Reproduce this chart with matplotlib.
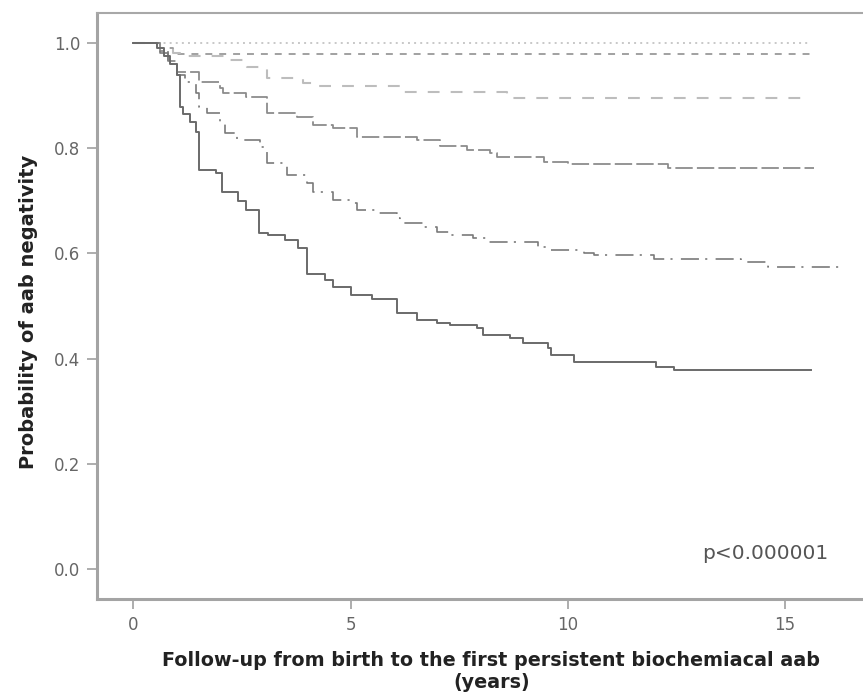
"""Kaplan-Meier style curves: probability of staying aab negative by follow-up time."""
import matplotlib
matplotlib.use("Agg")
import matplotlib.pyplot as plt

# step curves (time in years, survival probability)
t_dot = [0, 15.6]
s_dot = [1.0, 1.0]

t_short = [0, 0.6, 0.9, 15.6]
s_short = [1.0, 0.99, 0.979, 0.979]

t_med = [0, 0.6, 0.9, 1.06, 2.15, 2.61, 3.07, 3.9, 4.23, 6.14, 8.61, 15.6]
s_med = [1.0, 0.99, 0.98, 0.975, 0.968, 0.954, 0.933, 0.924, 0.918, 0.907, 0.895, 0.895]

t_long = [0, 0.6, 0.8, 1.0, 1.52, 1.99, 2.06, 2.6, 3.07, 3.76, 4.13, 4.6, 5.15, 6.54,
          7.07, 7.69, 8.22, 8.38, 9.45, 10.0, 12.31, 15.68]
s_long = [1.0, 0.985, 0.965, 0.945, 0.926, 0.914, 0.905, 0.897, 0.867, 0.859, 0.844, 0.838,
          0.821, 0.816, 0.804, 0.797, 0.791, 0.783, 0.774, 0.770, 0.762, 0.762]

t_dd = [0, 0.6, 0.8, 1.0, 1.18, 1.45, 1.52, 1.69, 1.99, 2.1, 2.38, 2.91, 3.07, 3.53, 4.0,
        4.13, 4.6, 5.06, 5.15, 5.61, 6.07, 6.14, 6.67, 7.0, 7.3, 7.83, 8.15, 9.31, 9.54,
        10.37, 10.6, 11.99, 13.99, 14.62, 16.3]
s_dd = [1.0, 0.98, 0.96, 0.94, 0.926, 0.905, 0.878, 0.867, 0.848, 0.829, 0.816, 0.802,
        0.772, 0.749, 0.734, 0.717, 0.702, 0.696, 0.683, 0.677, 0.667, 0.658, 0.650, 0.641,
        0.635, 0.629, 0.622, 0.612, 0.606, 0.601, 0.597, 0.589, 0.584, 0.574, 0.574]

t_solid = [0, 0.55, 0.7, 0.85, 1.0, 1.06, 1.15, 1.3, 1.45, 1.52, 1.9, 2.03, 2.4, 2.6, 2.9,
           3.1, 3.5, 3.8, 4.0, 4.4, 4.6, 5.0, 5.5, 6.07, 6.54, 7.0, 7.3, 7.92, 8.06, 8.68,
           8.98, 9.54, 9.61, 10.14, 12.03, 12.45, 15.6]
s_solid = [1.0, 0.99, 0.975, 0.96, 0.94, 0.878, 0.865, 0.85, 0.83, 0.759, 0.753, 0.717,
           0.70, 0.683, 0.639, 0.635, 0.625, 0.61, 0.56, 0.549, 0.536, 0.52, 0.513, 0.487,
           0.473, 0.468, 0.464, 0.458, 0.445, 0.439, 0.43, 0.42, 0.407, 0.394, 0.384, 0.378,
           0.378]

xticks = [0, 5, 10, 15]
yticks = [0.0, 0.2, 0.4, 0.6, 0.8, 1.0]

plt.rcParams["lines.scale_dashes"] = False
fig = plt.figure(figsize=(8.63, 6.98), dpi=100)
ax = fig.add_axes([0.1124, 0.1418, 0.8876, 0.8396])

curves = [
    (t_dot, s_dot, "#c4c4c4", 1.3, (0, (1.4, 3.0))),
    (t_short, s_short, "#9a9a9a", 1.3, (0, (5.0, 5.0))),
    (t_med, s_med, "#bdbdbd", 1.5, (0, (8.5, 8.0))),
    (t_long, s_long, "#8c8c8c", 1.3, (0, (12.5, 3.0))),
    (t_dd, s_dd, "#7a7a7a", 1.2, (0, (13.0, 4.5, 1.5, 6.0))),
    (t_solid, s_solid, "#6a6a6a", 1.4, "-"),
]
for t, s, c, lw, ls in curves:
    ax.plot(t, s, drawstyle="steps-post", color=c, lw=lw, linestyle=ls)

ax.set_xlim(-0.84, 16.8)
ax.set_ylim(-0.057, 1.057)
ax.set_xticks(xticks)
ax.set_xticklabels([str(v) for v in xticks])
ax.set_yticks(yticks)
ax.set_yticklabels(["%.1f" % v for v in yticks])
ax.tick_params(colors="#a0a0a0", labelcolor="#666666", labelsize=12, length=7, width=1.2)
ax.tick_params(axis="x", pad=5)
ax.tick_params(axis="y", pad=5)

for side in ["left", "bottom"]:
    ax.spines[side].set_color("#a4a4a4")
    ax.spines[side].set_linewidth(2.2)
ax.spines["top"].set_color("#a8a8a8")
ax.spines["top"].set_linewidth(1.5)
ax.spines["right"].set_visible(False)

ax.set_xlabel("Follow-up from birth to the first persistent biochemiacal aab\n(years)",
              fontsize=13.8, fontweight="bold", color="#222222", linespacing=1.25)
ax.xaxis.set_label_coords(0.515, -0.088)
ax.set_ylabel("Probability of aab negativity", fontsize=14, fontweight="bold",
              color="#222222")
ax.yaxis.set_label_coords(-0.077, 0.49)
ax.text(13.1, 0.03, "p<0.000001", fontsize=14.5, color="#555555", va="center")

fig.savefig("out.png", dpi=100)
